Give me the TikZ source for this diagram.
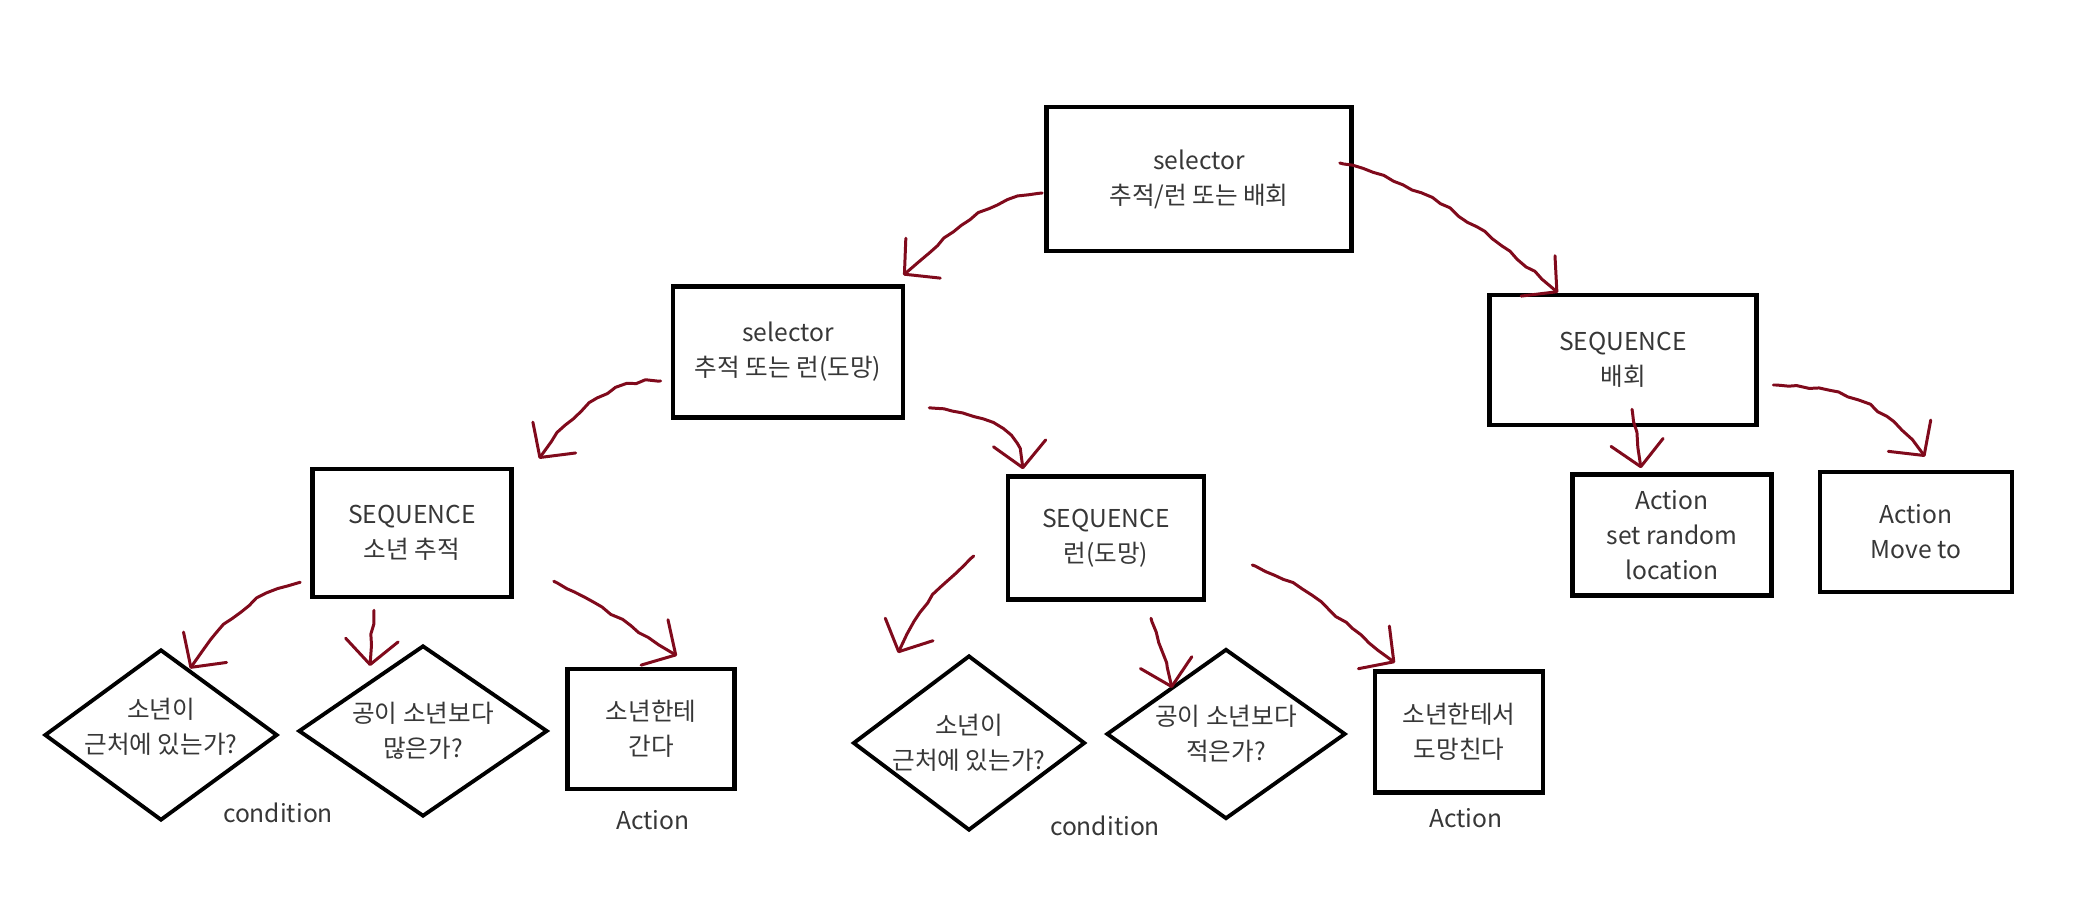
\documentclass[tikz,border=0pt]{standalone}
\usepackage{fontspec}
\setmainfont{Noto Sans CJK KR}
\usetikzlibrary{shapes.geometric, arrows.meta, calc, decorations.pathmorphing}
\definecolor{linkred}{RGB}{128,10,28}
\definecolor{txtgray}{RGB}{55,55,55}

\begin{document}
\begin{tikzpicture}[
    box/.style={draw=black, line width=1.3pt, text=txtgray, align=center,
                font=\fontsize{7}{10}\selectfont, inner sep=2pt},
    cond/.style={diamond, draw=black, line width=1.1pt, inner sep=0pt},
    condtxt/.style={text=txtgray, align=center, font=\fontsize{7}{10}\selectfont},
    tag/.style={text=txtgray, font=\fontsize{7}{10}\selectfont},
    link/.style={draw=linkred, line width=0.85pt, line cap=round, line join=round,
                 decorate, decoration={random steps, segment length=3pt,
                 amplitude=0.45pt, pre length=1pt, post length=6pt},
                 -{Straight Barb[length=7pt, width=15pt, round]}},
]
\pgfmathsetseed{7}
\path[use as bounding box, fill=white] (0,0) rectangle (20.96,9.15);

% ---------------------------------------------------------
% selectors and sequences
% ---------------------------------------------------------
\node[box, minimum width=3.05cm, minimum height=1.44cm] (root) at (11.99,7.36)
    {selector\\추적/런 또는 배회};
\node[box, minimum width=2.30cm, minimum height=1.31cm] (sel) at (7.88,5.63)
    {selector\\추적 또는 런(도망)};
\node[box, minimum width=2.67cm, minimum height=1.30cm] (wander) at (16.23,5.55)
    {SEQUENCE\\배회};
\node[box, minimum width=1.99cm, minimum height=1.28cm] (chase) at (4.12,3.82)
    {SEQUENCE\\소년 추적};
\node[box, minimum width=1.96cm, minimum height=1.23cm] (flee) at (11.06,3.77)
    {SEQUENCE\\런(도망)};

% ---------------------------------------------------------
% leaves: conditions and actions
% ---------------------------------------------------------
\node[cond, minimum width=2.33cm, minimum height=1.71cm] (near1) at (1.61,1.80) {};
\node[condtxt] (near1txt) at ($(near1)+(0,0.08)$) {소년이\\근처에 있는가?};
\node[cond, minimum width=2.49cm, minimum height=1.71cm] (more) at (4.23,1.84) {};
\node[condtxt] (moretxt) at (more) {공이 소년보다\\많은가?};
\node[box, minimum width=1.67cm, minimum height=1.20cm] (go) at (6.51,1.86)
    {소년한테\\간다};

\node[cond, minimum width=2.32cm, minimum height=1.75cm] (near2) at (9.69,1.72) {};
\node[condtxt] (near2txt) at (near2) {소년이\\근처에 있는가?};
\node[cond, minimum width=2.39cm, minimum height=1.70cm] (less) at (12.26,1.81) {};
\node[condtxt] (lesstxt) at (less) {공이 소년보다\\적은가?};
\node[box, minimum width=1.68cm, minimum height=1.21cm] (run) at (14.59,1.83)
    {소년한테서\\도망친다};

\node[box, minimum width=1.99cm, minimum height=1.21cm] (rand) at (16.72,3.80)
    {Action\\set random\\location};
\node[box, minimum width=1.92cm, minimum height=1.20cm] (move) at (19.16,3.83)
    {Action\\Move to};

% tags under the leaves
\node[tag] (cond1) at (2.78,1.02) {condition};
\node[tag] (act1) at (6.53,0.95) {Action};
\node[tag] (cond2) at (11.05,0.89) {condition};
\node[tag] (act2) at (14.66,0.97) {Action};

% ---------------------------------------------------------
% hand drawn links
% ---------------------------------------------------------
\draw[link] ($(root.west)+(-0.02,-0.14)$) to[out=185, in=40]
    ($(sel.north east)+(-0.02,0.09)$);
\draw[link] ($(root.east)+(-0.14,0.16)$) to[out=-15, in=140]
    ($(wander.north)+(-0.65,0)$);

\draw[link] ($(sel.west)+(-0.10,-0.29)$) to[out=180, in=55]
    ($(chase.north)+(1.27,0.08)$);
\draw[link] ($(sel.south east)+(0.24,0.12)$) to[out=-5, in=85]
    ($(flee.north)+(-0.83,0.05)$);

\draw[link] ($(chase.south west)+(-0.10,0.17)$) to[out=195, in=55]
    ($(near1.north)+(0.29,-0.21)$);
\draw[link] ($(chase.south)+(-0.38,-0.11)$) --
    ($(more.north)+(-0.53,-0.225)$);
\draw[link] ($(chase.south east)+(0.40,0.18)$) to[out=-25, in=150]
    ($(go.north)+(0.26,0.11)$);

\draw[link] ($(flee.west)+(-0.32,-0.18)$) to[out=220, in=65]
    ($(near2.north)+(-0.71,0.005)$);
\draw[link] ($(flee.south)+(0.45,-0.165)$) to[out=-75, in=100]
    ($(less.north)+(-0.54,-0.41)$);
\draw[link] ($(flee.east)+(0.46,-0.27)$) to[out=-20, in=145]
    ($(run.north)+(-0.64,0.065)$);

\draw[link] ($(wander.south)+(0.09,0.18)$) --
    ($(rand.north)+(-0.31,0.04)$);
\draw[link] ($(wander.east)+(0.145,-0.25)$) to[out=0, in=125]
    ($(move.north)+(0.09,0.13)$);

\end{tikzpicture}
\end{document}
